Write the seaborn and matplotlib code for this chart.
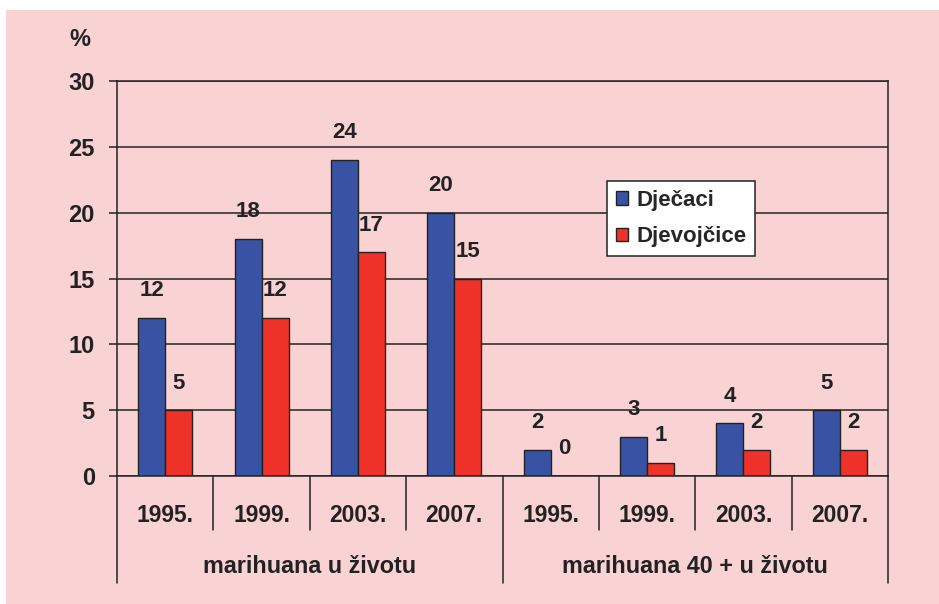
import matplotlib
matplotlib.use("Agg")
import matplotlib.pyplot as plt
import seaborn as sns
import pandas as pd
from matplotlib.lines import Line2D
from matplotlib.patches import Rectangle

# podaci
godine = ['1995.', '1999.', '2003.', '2007.']
skupine = ['marihuana u životu', 'marihuana 40 + u životu']
spol = ['Dječaci', 'Djevojčice']
djecaci = [12, 18, 24, 20, 2, 3, 4, 5]
djevojcice = [5, 12, 17, 15, 0, 1, 2, 2]

kat = [s + ' ' + g for s in skupine for g in godine]
data = pd.DataFrame({
    'kat': kat * 2,
    'spol': [spol[0]] * 8 + [spol[1]] * 8,
    'vrijednost': djecaci + djevojcice,
})

roza = '#F9D3D3'
boje = {'Dječaci': '#3953A4', 'Djevojčice': '#EE3129'}

sns.set_style('ticks')
plt.rcParams['font.family'] = ['Liberation Sans', 'DejaVu Sans']
plt.rcParams['font.weight'] = 'bold'

fig = plt.figure(figsize=(9.39, 6.04), dpi=100, facecolor='white')
fig.patches.append(Rectangle((6 / 939, 0), 1, 1 - 10 / 604, transform=fig.transFigure,
                             facecolor=roza, edgecolor='none', zorder=-10))
ax = fig.add_axes([117 / 939, 1 - 476 / 604, 771 / 939, 395 / 604])
ax.set_facecolor(roza)

sns.barplot(data=data, x='kat', y='vrijednost', hue='spol', order=kat, hue_order=spol,
            palette=boje, saturation=1, width=0.56, edgecolor='#222222', linewidth=1,
            ax=ax, legend=True)

# oznake vrijednosti
for cont in ax.containers:
    for bar in cont:
        h = bar.get_height()
        ax.annotate(f'{h:.0f}', (bar.get_x() + bar.get_width() / 2, h),
                    xytext=(0, 19.5), textcoords='offset points',
                    ha='center', va='center', fontsize=16, fontweight='bold',
                    color='#222222')

ax.set_ylim(0, 30)
ax.set_xlim(-0.5, 7.5)
ax.set_yticks(range(0, 31, 5))
ax.yaxis.grid(True, color='#222222', linewidth=1.1)
ax.set_axisbelow(True)
for sp in ax.spines.values():
    sp.set_visible(True)
    sp.set_color('#222222')
    sp.set_linewidth(1.1)
ax.tick_params(axis='y', length=6, width=1.1, pad=10, labelsize=17, colors='#222222')
ax.set_xticks(range(8), godine * 2)
ax.tick_params(axis='x', length=0, pad=20, labelsize=16.5, labelcolor='#222222')
for t in ax.get_xticklabels() + ax.get_yticklabels():
    t.set_fontweight('bold')
ax.set_xlabel('')
ax.set_ylabel('')

# crte ispod osi
tr = ax.get_xaxis_transform()
for x in [i - 0.5 for i in range(9)]:
    dolje = -0.272 if x in (-0.5, 3.5, 7.5) else -0.137
    ax.add_line(Line2D([x, x], [0, dolje], transform=tr, color='#222222',
                       linewidth=1.1, clip_on=False))
for i, s in enumerate(skupine):
    ax.text(1.5 + 4 * i, -0.228, s, transform=tr, ha='center', va='center',
            fontsize=16.8, fontweight='bold', color='#222222')

fig.text(80 / 939, 1 - 40 / 604, '%', ha='center', va='center', fontsize=17,
         fontweight='bold', color='#222222')

leg = ax.legend(loc='upper left', bbox_to_anchor=(0.636, 0.747), frameon=True,
                fancybox=False, framealpha=1, facecolor='white', edgecolor='#222222',
                handlelength=0.55, handleheight=0.55, handletextpad=0.36,
                labelspacing=0.7, borderpad=0.4, borderaxespad=0,
                prop={'size': 16, 'weight': 'bold'})
leg.get_frame().set_linewidth(1.1)
leg.set_title(None)

fig.savefig('out.png', dpi=100, facecolor='white')
